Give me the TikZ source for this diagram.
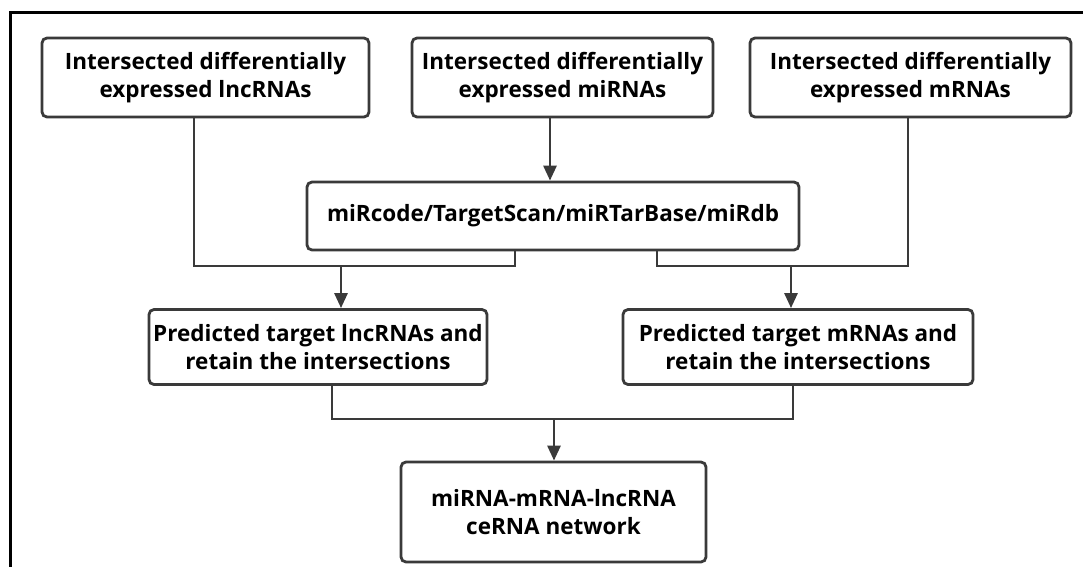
\documentclass[tikz,border=0pt]{standalone}
\usepackage{fontspec}
\setmainfont{Open Sans}
\usetikzlibrary{arrows.meta}
\tikzset{
  box/.style={draw=boxgray, line width=2.8pt, rounded corners=5pt, fill=white, align=center,
    inner sep=0pt, font=\bfseries\fontsize{22.5}{28.5}\selectfont, text=black},
  conn/.style={draw=boxgray, line width=2.8pt},
  arr/.style={conn, -{Triangle[length=15pt,width=13pt]}},
}
\definecolor{boxgray}{HTML}{3A3A3A}
\begin{document}
\begin{tikzpicture}[x=1pt,y=-1pt]
\useasboundingbox (0,0) rectangle (1083,566);
% frame
\draw[line width=3pt, black] (10,570) -- (10,12) -- (1086,12);
% boxes
\node[box, minimum width=327pt, minimum height=79pt] (b1) at (205.5,77.5)
  {Intersected differentially\\expressed lncRNAs};
\node[box, minimum width=301pt, minimum height=79pt] (b2) at (562.5,77.5)
  {Intersected differentially\\expressed miRNAs};
\node[box, minimum width=321pt, minimum height=79pt] (b3) at (910.5,77.5)
  {Intersected differentially\\expressed mRNAs};
\node[box, minimum width=492pt, minimum height=68pt] (mid) at (553,216)
  {miRcode/TargetScan/miRTarBase/miRdb};
\node[box, minimum width=338pt, minimum height=75pt] (b4) at (318,347)
  {Predicted target lncRNAs and\\retain the intersections};
\node[box, minimum width=350pt, minimum height=75pt] (b5) at (798,347)
  {Predicted target mRNAs and\\retain the intersections};
\node[box, minimum width=305pt, minimum height=100pt] (b6) at (553.5,512)
  {miRNA-mRNA-lncRNA\\ceRNA network};
% junction coordinates
\coordinate (a2) at (550,150);
\coordinate (c1) at (194,266);
\coordinate (c2) at (515,266);
\coordinate (j1) at (341,266);
\coordinate (c3) at (657,266);
\coordinate (c4) at (908,266);
\coordinate (j2) at (791,266);
\coordinate (c5) at (332,419);
\coordinate (c6) at (793,419);
\coordinate (j3) at (554,419);
% connectors
\draw[arr] (b2.south -| a2) -- (mid.north -| a2);
\draw[conn] (b1.south -| c1) -- (c1) -- (c2) -- (mid.south -| c2);
\draw[arr] (j1) -- (b4.north -| j1);
\draw[conn] (mid.south -| c3) -- (c3) -- (c4) -- (b3.south -| c4);
\draw[arr] (j2) -- (b5.north -| j2);
\draw[conn] (b4.south -| c5) -- (c5) -- (c6) -- (b5.south -| c6);
\draw[arr] (j3) -- (b6.north -| j3);
\end{tikzpicture}
\end{document}
